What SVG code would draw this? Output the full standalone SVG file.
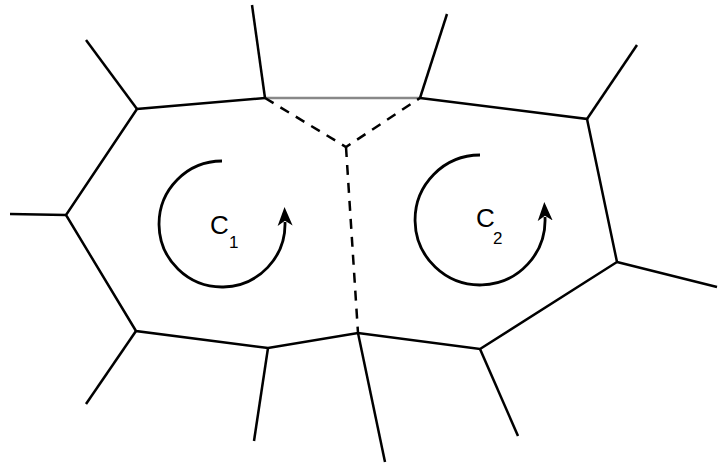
<svg xmlns="http://www.w3.org/2000/svg" width="719" height="464" viewBox="0 0 719 464">
<style>
.e{stroke:#000;stroke-width:2.5;fill:none;stroke-linecap:butt}
.g{stroke:#888;stroke-width:2.5;fill:none}
.d{stroke:#000;stroke-width:2.5;fill:none;stroke-dasharray:10 8}
.c{stroke:#000;stroke-width:2.8;fill:none}
.t{font-family:"Liberation Sans",Arial,sans-serif;fill:#000}
</style>
<defs>
<marker id="ah" markerUnits="userSpaceOnUse" markerWidth="20" markerHeight="20" refX="3" refY="6" orient="auto" viewBox="0 0 16 12">
<path d="M0,0 L15,6 L0,12 L4,6 Z" fill="#000"/>
</marker>
</defs>
<rect width="719" height="464" fill="#fff"/>
<g id="connectors">
<polyline class="e" points="265,98 137,109 66,215 136,331 268,348 358,333 480,349 617,262 587,119 420,98"/>
<line class="g" x1="265" y1="98" x2="420" y2="98"/>
<polyline class="d" points="265,98 346,147 420,98"/>
<line class="d" x1="346" y1="147" x2="358" y2="333"/>
<line class="e" x1="137" y1="109" x2="86" y2="40"/>
<line class="e" x1="265" y1="98" x2="252" y2="5"/>
<line class="e" x1="420" y1="98" x2="447" y2="14"/>
<line class="e" x1="587" y1="119" x2="637" y2="45"/>
<line class="e" x1="617" y1="262" x2="717" y2="287"/>
<line class="e" x1="480" y1="349" x2="518" y2="436"/>
<line class="e" x1="358" y1="333" x2="385" y2="462"/>
<line class="e" x1="268" y1="348" x2="254" y2="441"/>
<line class="e" x1="136" y1="331" x2="86" y2="404"/>
<line class="e" x1="66" y1="215" x2="10" y2="214"/>
</g>
<g id="C1">
<path class="c" d="M222,161 A63,63 0 1,0 285,222" marker-end="url(#ah)"/>
<text class="t" x="210" y="234" font-size="26">C</text>
<text class="t" x="229" y="248" font-size="17">1</text>
</g>
<g id="C2">
<path class="c" d="M480,155 A65,65 0 1,0 545,217" marker-end="url(#ah)"/>
<text class="t" x="476" y="227" font-size="26">C</text>
<text class="t" x="493" y="244" font-size="17">2</text>
</g>
</svg>
